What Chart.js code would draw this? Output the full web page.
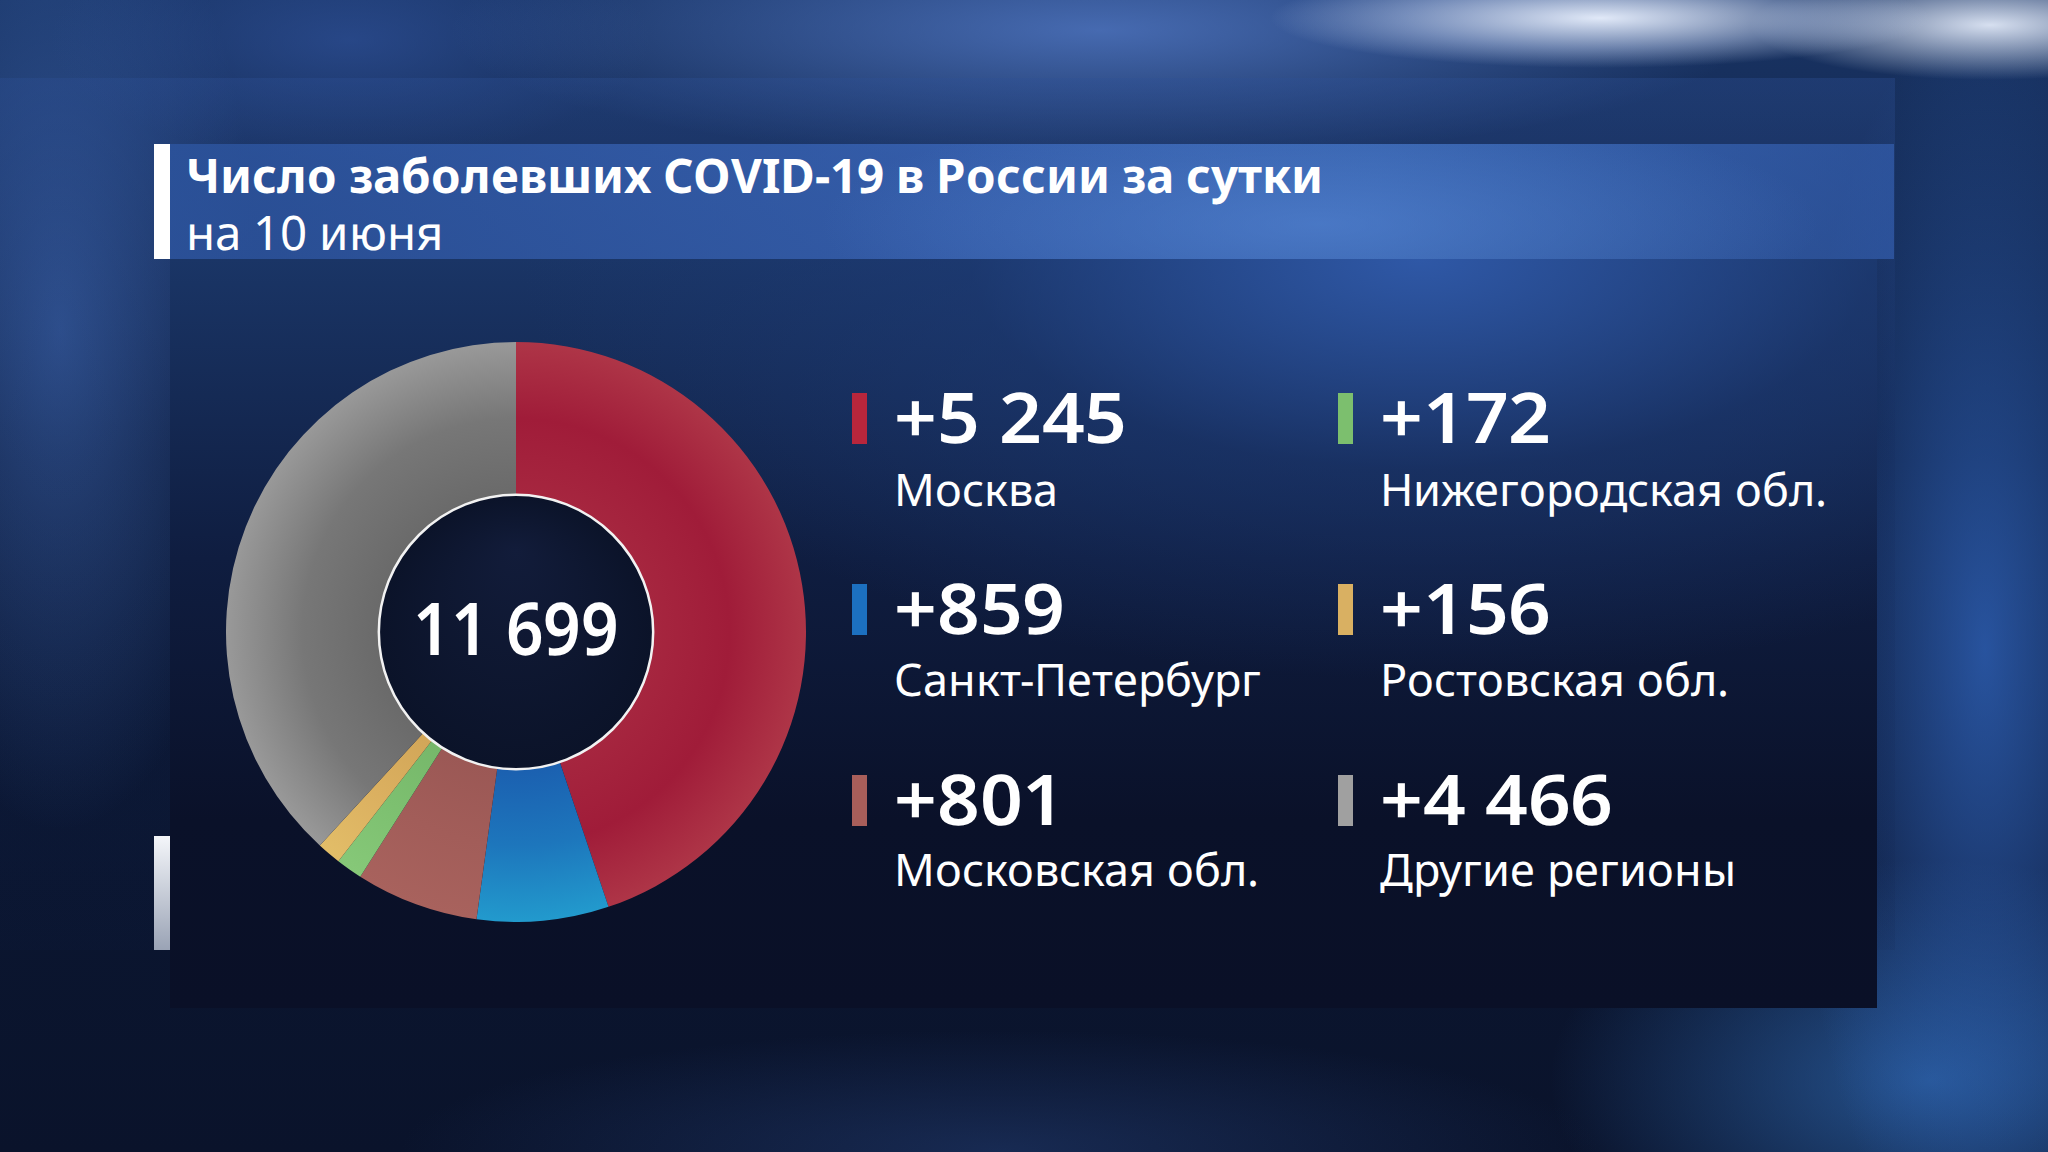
<!DOCTYPE html>
<html><head><meta charset="utf-8">
<script src="https://cdn.jsdelivr.net/npm/chart.js@4/dist/chart.umd.min.js"></script>
<style>
@font-face{font-family:"NS";src:local("Noto Sans"),local("NotoSans-Regular");font-weight:400;ascent-override:90%;descent-override:22%;line-gap-override:0%}
@font-face{font-family:"NS";src:local("Noto Sans Medium"),local("NotoSans-Medium");font-weight:500;ascent-override:90%;descent-override:22%;line-gap-override:0%}
@font-face{font-family:"NS";src:local("Noto Sans SemiBold"),local("NotoSans-SemiBold");font-weight:600;ascent-override:90%;descent-override:22%;line-gap-override:0%}
@font-face{font-family:"NS";src:local("Noto Sans Bold"),local("NotoSans-Bold");font-weight:700;ascent-override:90%;descent-override:22%;line-gap-override:0%}
html,body{margin:0;padding:0;width:2048px;height:1152px;overflow:hidden;font-family:"NS","Noto Sans",sans-serif;color:#fff}
body{background:
 radial-gradient(ellipse 330px 50px at 1600px 18px, rgba(235,242,255,0.95), rgba(200,215,245,0.45) 60%, transparent 100%),
 radial-gradient(ellipse 240px 55px at 1990px 25px, rgba(235,242,255,0.9), transparent 100%),
 radial-gradient(ellipse 650px 130px at 1100px 30px, rgba(90,130,210,0.7), transparent 100%),
 radial-gradient(ellipse 300px 120px at 350px 40px, rgba(50,85,160,0.6), transparent 100%),
 radial-gradient(ellipse 200px 500px at 60px 330px, rgba(70,115,195,0.6), transparent 100%),
 radial-gradient(ellipse 200px 650px at 1985px 650px, rgba(55,115,215,0.65), transparent 100%),
 radial-gradient(ellipse 380px 220px at 1930px 1080px, rgba(60,135,225,0.55), transparent 100%),
 radial-gradient(ellipse 600px 120px at 1000px 1150px, rgba(40,70,130,0.45), transparent 100%),
 linear-gradient(180deg,#193465 0%,#0c1a38 40%,#0a132b 100%);}
.abs{position:absolute}
#layer{left:0;top:78px;width:1895px;height:872px;background:linear-gradient(180deg,rgba(45,80,150,0.35),rgba(20,40,90,0.15) 40%,rgba(15,30,70,0.1));}
#band{left:170px;top:144px;width:1724px;height:115px;background:
 radial-gradient(ellipse 500px 120px at 1150px 80px, rgba(90,140,220,0.55), transparent 100%),
 linear-gradient(90deg,rgba(45,85,160,0.8),rgba(60,105,190,0.75) 45%,rgba(65,115,200,0.7) 70%,rgba(55,100,185,0.6));}
#panel{left:170px;top:259px;width:1707px;height:749px;background:
 radial-gradient(ellipse 900px 420px at 1250px 0px, rgba(48,90,170,0.95), rgba(30,60,120,0.5) 50%, transparent 100%),
 linear-gradient(180deg,#1a3566 0%,#0f1d40 40%,#0a1129 75%,#0a1027 100%);}
#bar1{left:154px;top:144px;width:16px;height:115px;background:#fff}
#bar2{left:154px;top:836px;width:16px;height:114px;background:linear-gradient(180deg,#f4f6fa,#9aa3b5)}
.t{white-space:nowrap;line-height:1;transform-origin:0 0}
#title{font-size:47.5px;font-weight:700}
#sub{font-size:47.5px;font-weight:400}
#wrap{left:226px;top:342px;width:580px;height:580px}
#center{width:400px;text-align:center;font-size:73px;font-weight:600;transform-origin:50% 0;transform:scaleX(0.9)}
.mk{width:15px;height:51px}
.num{font-size:70px;font-weight:600;transform:scaleX(1.07)}
.lab{font-size:45px;font-weight:400}
</style></head>
<body>
<div id="layer" class="abs"></div>
<div id="band" class="abs"></div>
<div id="panel" class="abs"></div>
<div id="bar1" class="abs"></div>
<div id="bar2" class="abs"></div>
<div id="title" class="abs t">Число заболевших COVID-19 в России за сутки</div>
<div id="sub" class="abs t">на 10 июня</div>
<div id="wrap" class="abs"><canvas id="c" width="580" height="580"></canvas></div>
<div id="center" class="abs t"></div>
<div id="legend"></div>
<script>
// ---- data ----
const regions = ["Москва","Санкт-Петербург","Московская обл.","Нижегородская обл.","Ростовская обл.","Другие регионы"];
const newCases = [5245, 859, 801, 172, 156, 4466];
// ---- styles ----
const innerColors = ["#a6263f","#1b60b0","#9b5855","#76b76a","#d2a658","#6a6a6a"];
const midColors   = ["#a01c39","#1d76bc","#a25d59","#7dc070","#dbb060","#777777"];
const outerColors = ["#ae3547","#229acd","#a8625d","#86c878","#e2bd68","#999999"];
const markerColors= ["#b8263c","#1c70c0","#a85e5a","#7cbf6e","#d9b062","#a0a0a0"];

const K = 0.84; // baseline offset factor for line-height:1
function place(el, x, baseline, fs){ el.style.left = x+'px'; el.style.top = (baseline - K*fs)+'px'; }
const fmt = v => String(v).replace(/\B(?=(\d{3})+(?!\d))/g, ' ');
const total = newCases.reduce((a,b)=>a+b,0);

place(document.getElementById('title'), 186, 193, 47.5);
place(document.getElementById('sub'), 186, 250, 47.5);
const ce = document.getElementById('center');
ce.textContent = fmt(total);
place(ce, 316, 655, 73);

// legend (column-major, 3 rows)
const lg = document.getElementById('legend');
const colX = [852, 1338], textDX = 42;
regions.forEach((r,i)=>{
  const col = Math.floor(i/3), row = i%3;
  const x = colX[col];
  const m = document.createElement('div'); m.className='abs mk';
  m.style.left=x+'px'; m.style.top=(393+191*row)+'px'; m.style.background=markerColors[i];
  lg.appendChild(m);
  const n = document.createElement('div'); n.className='abs t num';
  n.textContent='+'+fmt(newCases[i]);
  place(n, x+textDX, 443+191*row, 70);
  lg.appendChild(n);
  const l = document.createElement('div'); l.className='abs t lab';
  l.textContent=r;
  place(l, x+textDX, 506+190*row, 45);
  lg.appendChild(l);
});

const innerCircle = {
  id:'innerCircle',
  afterDatasetsDraw(chart){
    const arc = chart.getDatasetMeta(0).data[0];
    if(!arc) return;
    const {x,y,innerRadius} = arc.getProps(['x','y','innerRadius'], true);
    const ctx = chart.ctx;
    ctx.save();
    const g = ctx.createRadialGradient(x,y-innerRadius*0.6,0,x,y,innerRadius);
    g.addColorStop(0,'#121c3a'); g.addColorStop(1,'#0b1329');
    ctx.beginPath(); ctx.arc(x,y,innerRadius,0,Math.PI*2);
    ctx.fillStyle=g; ctx.fill();
    ctx.lineWidth=2.5; ctx.strokeStyle='#f2f2f2'; ctx.stroke();
    ctx.restore();
  }
};

const CUT = 0.473;
new Chart(document.getElementById('c'),{
  type:'doughnut',
  data:{labels:regions,datasets:[{data:newCases,borderWidth:0,
    backgroundColor(ctx){
      const chart=ctx.chart, i=ctx.dataIndex, a=chart.chartArea;
      if(!a) return midColors[i];
      const x=(a.left+a.right)/2, y=(a.top+a.bottom)/2;
      const outer=Math.min(a.right-a.left,a.bottom-a.top)/2, inner=outer*CUT;
      const g = chart.ctx.createRadialGradient(x,y,inner,x,y,outer);
      g.addColorStop(0,innerColors[i]); g.addColorStop(0.5,midColors[i]); g.addColorStop(1,outerColors[i]);
      return g;
    }}]},
  options:{responsive:false,animation:false,cutout:(CUT*100)+'%',
    layout:{padding:0},
    plugins:{legend:{display:false},tooltip:{enabled:false}}},
  plugins:[innerCircle]
});
</script>
</body></html>
